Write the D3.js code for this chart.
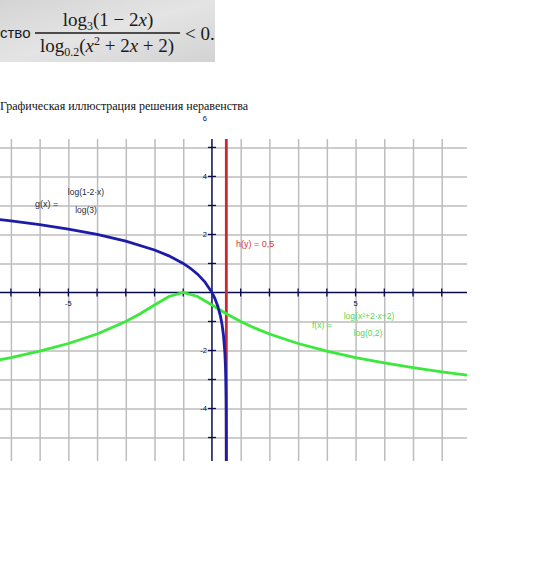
<!DOCTYPE html>
<html><head><meta charset="utf-8">
<script src="https://cdn.jsdelivr.net/npm/d3@7"></script>
<style>body{margin:0;background:#fff}svg{display:block}</style>
</head><body>
<script>
// Data
const xDomain = [-7.38, 8.88];
const yDomain = [-5.81, 5.29];
const xGrid = [-7,-6,-5,-4,-3,-2,-1,1,2,3,4,5,6,7,8];
const yGrid = [-5,-4,-3,-2,-1,1,2,3,4,5];
const xTickLabels = [-5, 5];
const yTickLabels = [-4, -2, 2, 4, 6];
const hLineX = 0.5;
// g(x) = log(1-2x)/log(3)
const gX = [-7.4,-7,-6,-5,-4,-3,-2,-1.5,-1,-0.75,-0.5,-0.25,0,0.1,0.2,0.3,0.35,0.4,0.45,0.47,0.48,0.49,0.495,0.498,0.499,0.4995];
const gY = [2.512,2.465,2.335,2.183,2.0,1.771,1.465,1.262,1.0,0.834,0.631,0.369,0,-0.203,-0.465,-0.834,-1.096,-1.465,-2.096,-2.561,-2.93,-3.561,-4.192,-5.026,-5.657,-6.288];
// f(x) = log(x^2+2x+2)/log(0,2)
const fX = [-7.4,-7,-6,-5,-4,-3,-2.5,-2,-1.5,-1,-0.5,0,0.5,1,1.5,2,3,4,5,6,7,8,8.9];
const fY = [-2.322,-2.244,-2.024,-1.760,-1.431,-1.0,-0.732,-0.431,-0.139,0,-0.139,-0.431,-0.732,-1.0,-1.231,-1.431,-1.760,-2.024,-2.244,-2.431,-2.594,-2.738,-2.855];

(function(){
const W = 541, H = 565;
const svg = d3.select("body").append("svg").attr("width", W).attr("height", H);

// Header formula picture
const defs = svg.append("defs");
const grad = defs.append("linearGradient").attr("id","hg").attr("x1","0").attr("y1","0").attr("x2","1").attr("y2","1");
grad.append("stop").attr("offset","0").attr("stop-color","#d4d4d4");
grad.append("stop").attr("offset","0.5").attr("stop-color","#e4e4e4");
grad.append("stop").attr("offset","1").attr("stop-color","#d2d2d2");
svg.append("rect").attr("x",0).attr("y",0).attr("width",215).attr("height",62).attr("fill","url(#hg)");
const hd = svg.append("g").attr("fill","#1a1a1a");
hd.append("text").attr("x",0).attr("y",38).attr("font-family","Liberation Sans, Arial").attr("font-size",15).text("ство");
const num = hd.append("text").attr("x",108).attr("y",26).attr("text-anchor","middle").attr("font-family","Liberation Serif, Times New Roman").attr("font-size",19);
num.append("tspan").text("log");
num.append("tspan").attr("font-size",12).attr("dy",4).text("3");
num.append("tspan").attr("dy",-4).text("(1 − 2");
num.append("tspan").attr("font-style","italic").text("x");
num.append("tspan").text(")");
hd.append("line").attr("x1",35).attr("x2",180).attr("y1",33).attr("y2",33).attr("stroke","#1a1a1a").attr("stroke-width",1.3);
const den = hd.append("text").attr("x",107).attr("y",52).attr("text-anchor","middle").attr("font-family","Liberation Serif, Times New Roman").attr("font-size",19);
den.append("tspan").text("log");
den.append("tspan").attr("font-size",12).attr("dy",4).text("0.2");
den.append("tspan").attr("dy",-4).text("(");
den.append("tspan").attr("font-style","italic").text("x");
den.append("tspan").attr("font-size",12).attr("dy",-7).text("2");
den.append("tspan").attr("dy",7).text(" + 2");
den.append("tspan").attr("font-style","italic").text("x");
den.append("tspan").text(" + 2)");
hd.append("text").attr("x",185).attr("y",40).attr("font-family","Liberation Serif, Times New Roman").attr("font-size",19).text("< 0.");

// Subtitle
svg.append("text").attr("x",0).attr("y",110).attr("font-family","Liberation Serif, Times New Roman").attr("font-size",12).attr("fill","#111").text("Графическая иллюстрация решения неравенства");

// Plot
const x = d3.scaleLinear().domain(xDomain).range([0, 467]);
const y = d3.scaleLinear().domain(yDomain).range([461, 139]);
const pTop = y.range()[1], pBot = y.range()[0], pLeft = x.range()[0], pRight = x.range()[1];

defs.append("clipPath").attr("id","pc").append("rect").attr("x",pLeft).attr("y",pTop).attr("width",pRight-pLeft).attr("height",pBot-pTop);

// grid via axes
svg.append("g").attr("transform",`translate(0,${pBot})`)
  .call(d3.axisBottom(x).tickValues(xGrid).tickSize(-(pBot-pTop)).tickFormat(""))
  .call(g=>{g.select(".domain").remove(); g.selectAll("line").attr("stroke","#bdbdbd").attr("stroke-width",1.5);});
svg.append("g").attr("transform",`translate(${pLeft},0)`)
  .call(d3.axisLeft(y).tickValues(yGrid).tickSize(-(pRight-pLeft)).tickFormat(""))
  .call(g=>{g.select(".domain").remove(); g.selectAll("line").attr("stroke","#bdbdbd").attr("stroke-width",1.5);});

const axisCol = "#0a0a50";
// x axis
svg.append("line").attr("x1",pLeft).attr("x2",pRight).attr("y1",y(0)).attr("y2",y(0)).attr("stroke",axisCol).attr("stroke-width",1.5);
svg.append("g").selectAll("line").data(xGrid).join("line")
  .attr("x1",d=>x(d)).attr("x2",d=>x(d)).attr("y1",y(0)-4).attr("y2",y(0)+4).attr("stroke",axisCol).attr("stroke-width",1.3);
// y axis
svg.append("line").attr("x1",x(0)).attr("x2",x(0)).attr("y1",pTop).attr("y2",pBot).attr("stroke",axisCol).attr("stroke-width",1.5);
svg.append("g").selectAll("line").data(yGrid).join("line")
  .attr("y1",d=>y(d)).attr("y2",d=>y(d)).attr("x1",x(0)-4).attr("x2",x(0)+4).attr("stroke",axisCol).attr("stroke-width",1.3);

// tick labels
svg.append("g").selectAll("text").data(xTickLabels).join("text")
  .attr("x",d=>x(d)).attr("y",y(0)+14).attr("text-anchor","middle")
  .attr("font-family","Liberation Sans, Arial").attr("font-size",7.5).attr("fill",axisCol).text(d=>d);
svg.append("g").selectAll("text").data(yTickLabels).join("text")
  .attr("x",x(0)-5).attr("y",d=>y(d)+3).attr("text-anchor","end")
  .attr("font-family","Liberation Sans, Arial").attr("font-size",7.5).attr("fill",axisCol).text(d=>d);

// h(y) = 0,5 red line
svg.append("line").attr("x1",x(hLineX)).attr("x2",x(hLineX)).attr("y1",pTop).attr("y2",pBot).attr("stroke","#c8282e").attr("stroke-width",2.8);

const pg = svg.append("g").attr("clip-path","url(#pc)");
const line = d3.line().x(d=>x(d[0])).y(d=>y(d[1]));
pg.append("path").datum(fX.map((v,i)=>[v,fY[i]])).attr("d",line).attr("fill","none").attr("stroke","#3be83b").attr("stroke-width",2.8);
pg.append("path").datum(gX.map((v,i)=>[v,gY[i]])).attr("d",line).attr("fill","none").attr("stroke","#1c1ca8").attr("stroke-width",2.8);

// labels
const sf = "Liberation Sans, Arial";
svg.append("text").attr("x",35).attr("y",207).attr("font-family",sf).attr("font-size",9).attr("fill","#2a2a40").text("g(x) =");
svg.append("text").attr("x",86).attr("y",195).attr("text-anchor","middle").attr("font-family",sf).attr("font-size",8.5).attr("fill","#2a2a40").text("log(1-2·x)");
svg.append("text").attr("x",86).attr("y",213).attr("text-anchor","middle").attr("font-family",sf).attr("font-size",8.5).attr("fill","#2a2a40").text("log(3)");

svg.append("text").attr("x",236).attr("y",247).attr("font-family",sf).attr("font-size",9).attr("fill","#d03838").text("h(y) = 0,5");

const gc = "#5ad650";
svg.append("text").attr("x",312).attr("y",328).attr("font-family",sf).attr("font-size",8.5).attr("fill",gc).text("f(x) =");
svg.append("text").attr("x",369).attr("y",319).attr("text-anchor","middle").attr("font-family",sf).attr("font-size",8.5).attr("fill",gc).text("log(x²+2·x+2)");
svg.append("text").attr("x",368).attr("y",336).attr("text-anchor","middle").attr("font-family",sf).attr("font-size",8.5).attr("fill",gc).text("log(0,2)");
})();
</script>
</body></html>
